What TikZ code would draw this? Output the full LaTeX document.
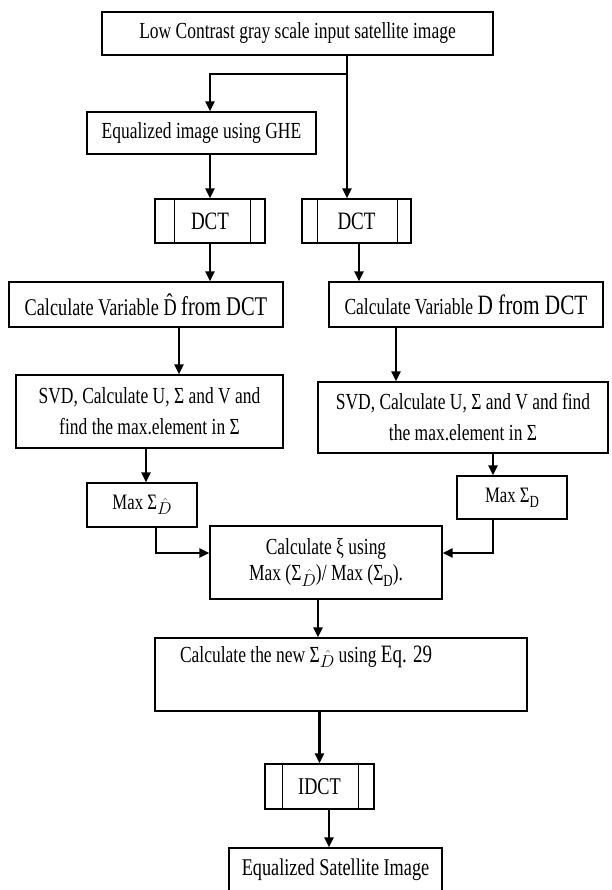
\documentclass[tikz,border=0pt]{standalone}
\usepackage{fontspec}
\setmainfont{Liberation Serif}[FakeStretch=0.76]
\usetikzlibrary{arrows.meta,calc}
\tikzset{
 box/.style={draw, line width=1.3pt, inner sep=0pt, align=center, font=\fontsize{23}{31}\selectfont},
 arr/.style={line width=2.6pt, -{Triangle[length=10pt,width=9pt]}},
 thinln/.style={line width=1.3pt},
}
\newcommand\subsc[1]{\raisebox{-0.5ex}{\fontsize{17}{17}\selectfont #1}}
\newcommand\Dh{$\hat{D}$}
\begin{document}
\begin{tikzpicture}[x=1pt,y=-1pt]
\useasboundingbox (0,0) rectangle (611,890);
\fill[white] (0,0) rectangle (611,890);
% nodes
\node[box, minimum width=391, minimum height=43] (top) at (297.5,33.5) {Low Contrast gray scale input satellite image};
\node[box, minimum width=229, minimum height=42] (eq) at (201.5,133) {Equalized image using GHE};
\node[box, minimum width=110, minimum height=44, font=\fontsize{25}{25}\selectfont] (dct1) at (210,221) {DCT};
\node[box, minimum width=109, minimum height=44, font=\fontsize{25}{25}\selectfont] (dct2) at (356.5,221) {DCT};
\node[box, minimum width=274, minimum height=45, font=\fontsize{24}{26}\selectfont] (cdh) at (146,304.5) {Calculate Variable \^{D} {\fontsize{27}{27}\selectfont from DCT}};
\node[box, minimum width=274, minimum height=45, font=\fontsize{23}{26}\selectfont] (cd) at (466,304.5) {Calculate Variable {\fontsize{28}{28}\selectfont D from DCT}};
\node[box, minimum width=267, minimum height=73] (svd1) at (149.5,411.5) {SVD, Calculate U, Σ and V and\\find the max.element in Σ};
\node[box, minimum width=290, minimum height=71] (svd2) at (463,417.5) {SVD, Calculate U, Σ and V and find\\the max.element in Σ};
\node[box, minimum width=110, minimum height=44, font=\fontsize{22}{24}\selectfont] (mdh) at (142,505) {Max Σ\subsc{\Dh}};
\node[box, minimum width=110, minimum height=43, font=\fontsize{22}{24}\selectfont] (md) at (512,497.5) {Max Σ\subsc{D}};
\node[box, minimum width=232, minimum height=73, font=\fontsize{23}{26}\selectfont] (xi) at (326,562.5) {Calculate ξ using\\Max (Σ\subsc{\Dh})/ Max (Σ\subsc{D}).};
\node[box, minimum width=372, minimum height=73, align=left] (new) at (341,674.5) {\parbox[c][58pt][t]{372pt}{\hspace*{25pt}Calculate the new Σ\subsc{\Dh} using {\fontsize{25}{25}\selectfont Eq. 29}}};
\node[box, minimum width=109, minimum height=45, font=\fontsize{24}{24}\selectfont] (idct) at (319.5,786.5) {IDCT};
\node[box, minimum width=213, minimum height=44, font=\fontsize{24}{24}\selectfont] (fin) at (335.5,870) {Equalized Satellite Image};
% predefined-process inner lines
\draw[thinln] ([xshift=20pt]dct1.north west) -- ([xshift=20pt]dct1.south west);
\draw[thinln] ([xshift=-15pt]dct1.north east) -- ([xshift=-15pt]dct1.south east);
\draw[thinln] ([xshift=16pt]dct2.north west) -- ([xshift=16pt]dct2.south west);
\draw[thinln] ([xshift=-14pt]dct2.north east) -- ([xshift=-14pt]dct2.south east);
\draw[thinln] ([xshift=18pt]idct.north west) -- ([xshift=18pt]idct.south west);
\draw[thinln] ([xshift=-16pt]idct.north east) -- ([xshift=-16pt]idct.south east);
% connector coordinates
\coordinate (br) at (347,74);
\coordinate (xa) at (179,0);
\coordinate (xb) at (396,0);
\coordinate (xc) at (146,0);
\coordinate (xd) at (493,0);
\coordinate (xf) at (318,0);
\coordinate (xg) at (329,0);
\coordinate (xh) at (359,0);
\coordinate (jl) at (156,553);
\coordinate (jr) at (493,553);
% connectors
\draw[arr] (top.south -| br) -- (dct2.north -| br);
\draw[arr] (br) -| (eq.north -| dct1.north);
\draw[arr] (eq.south -| dct1.north) -- (dct1.north);
\draw[arr] (dct1.south) -- (cdh.north -| dct1.south);
\draw[arr] (dct2.south -| xh) -- (cd.north -| xh);
\draw[arr] (cdh.south -| xa) -- (svd1.north -| xa);
\draw[arr] (cd.south -| xb) -- (svd2.north -| xb);
\draw[arr] (svd1.south -| xc) -- (mdh.north -| xc);
\draw[arr] (svd2.south -| xd) -- (md.north -| xd);
\draw[thinln] (mdh.south -| jl) -- (jl);
\draw[arr] ([xshift=-0.65pt]jl) -- (xi.west |- jl);
\draw[thinln] (md.south -| jr) -- (jr);
\draw[arr] ([xshift=0.65pt]jr) -- (xi.east |- jr);
\draw[arr] (xi.south -| xf) -- (new.north -| xf);
\draw[arr] (new.south -| idct.north) -- (idct.north);
\draw[arr] (idct.south -| xg) -- (fin.north -| xg);
\end{tikzpicture}
\end{document}
